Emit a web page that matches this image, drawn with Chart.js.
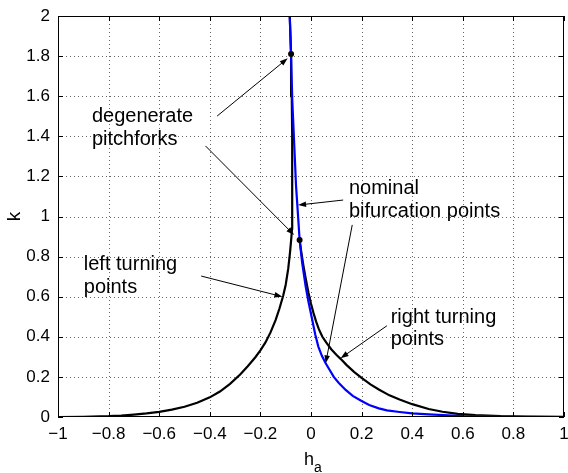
<!DOCTYPE html>
<html>
  <head>
    <style>
      body {
        margin: 0;
        background: #fff;
      }
      .wrap {
        width: 568px;
        height: 473px;
        position: relative;
      }
    </style>
    <script src="https://cdn.jsdelivr.net/npm/chart.js"></script>
  </head>
  <body>
    <div class="wrap">
      <canvas id="kChart"></canvas>
    </div>
    <script>
      // tick values and labels
      var xTicks = [-1, -0.8, -0.6, -0.4, -0.2, 0, 0.2, 0.4, 0.6, 0.8, 1];
      var xTickLabels = ['\u22121', '\u22120.8', '\u22120.6', '\u22120.4', '\u22120.2', '0', '0.2', '0.4', '0.6', '0.8', '1'];
      var yTicks = [0, 0.2, 0.4, 0.6, 0.8, 1, 1.2, 1.4, 1.6, 1.8, 2];
      var yTickLabels = ['0', '0.2', '0.4', '0.6', '0.8', '1', '1.2', '1.4', '1.6', '1.8', '2'];

      // left turning points (black)
      var leftX = [-1, -0.9, -0.8, -0.75, -0.7, -0.65, -0.6, -0.55, -0.5, -0.45, -0.4, -0.36, -0.32, -0.28, -0.25, -0.22, -0.2, -0.18, -0.16, -0.14, -0.125, -0.11, -0.1, -0.09, -0.083, -0.078, -0.075, -0.074, -0.074, -0.075, -0.076, -0.0787, -0.084];
      var leftY = [0, 0.001, 0.004, 0.007, 0.012, 0.018, 0.026, 0.037, 0.051, 0.071, 0.098, 0.127, 0.165, 0.212, 0.253, 0.298, 0.332, 0.372, 0.422, 0.483, 0.54, 0.605, 0.66, 0.74, 0.82, 0.89, 0.94, 0.98, 1.2, 1.4, 1.6, 1.81, 2.0];

      // right turning points (black)
      var rightX = [-0.045, -0.038, -0.03, -0.02, -0.01, 0, 0.01, 0.02, 0.031, 0.045, 0.06, 0.08, 0.1, 0.117, 0.14, 0.17, 0.2, 0.235, 0.268, 0.31, 0.35, 0.4, 0.465, 0.52, 0.58, 0.65, 0.75, 0.85, 1];
      var rightY = [0.883, 0.82, 0.755, 0.685, 0.62, 0.565, 0.518, 0.477, 0.438, 0.4, 0.372, 0.338, 0.31, 0.29, 0.26, 0.225, 0.195, 0.163, 0.137, 0.108, 0.087, 0.064, 0.04, 0.026, 0.016, 0.009, 0.004, 0.002, 0.0005];

      // nominal bifurcation points (blue)
      var nomX = [-0.084, -0.079, -0.074, -0.066, -0.059, -0.054, -0.05, -0.045, -0.035, -0.021, -0.01, 0.005, 0.017, 0.029, 0.043, 0.058, 0.075, 0.09, 0.11, 0.137, 0.165, 0.2, 0.23, 0.268, 0.3, 0.35, 0.4, 0.465, 0.6, 0.8, 1];
      var nomY = [2.0, 1.81, 1.58, 1.35, 1.15, 1.057, 0.98, 0.883, 0.77, 0.65, 0.575, 0.484, 0.41, 0.351, 0.305, 0.268, 0.232, 0.2, 0.17, 0.135, 0.105, 0.08, 0.06, 0.043, 0.033, 0.025, 0.018, 0.013, 0.005, 0.001, 0];

      // degenerate pitchforks
      var dotX = [-0.0787, -0.045];
      var dotY = [1.81, 0.883];

      // annotations (data units)
      var noteLines = [['degenerate', 'pitchforks'], ['nominal', 'bifurcation points'], ['right turning', 'points'], ['left turning', 'points']];
      var noteX = [-0.866, 0.15, 0.315, -0.898];
      var noteY = [1.471, 1.112, 0.469, 0.733];
      var arrowFromX = [-0.371, -0.417, 0.127, 0.163, 0.3, -0.434];
      var arrowFromY = [1.501, 1.352, 1.082, 0.958, 0.455, 0.703];
      var arrowToX = [-0.092, -0.067, -0.051, 0.058, 0.117, -0.113];
      var arrowToY = [1.789, 0.908, 1.057, 0.268, 0.293, 0.6];

      var FONT = "'Liberation Sans', Arial, Helvetica, sans-serif";

      function pts(xs, ys) {
        return xs.map(function(x, i) { return {x: x, y: ys[i]}; });
      }

      function arrow(ctx, x1, y1, x2, y2) {
        var a = Math.atan2(y2 - y1, x2 - x1);
        var len = 8, half = 2.8;
        ctx.beginPath();
        ctx.moveTo(x1, y1);
        ctx.lineTo(x2 - Math.cos(a) * len * 0.6, y2 - Math.sin(a) * len * 0.6);
        ctx.stroke();
        ctx.beginPath();
        ctx.moveTo(x2, y2);
        ctx.lineTo(x2 - Math.cos(a) * len + Math.sin(a) * half, y2 - Math.sin(a) * len - Math.cos(a) * half);
        ctx.lineTo(x2 - Math.cos(a) * len - Math.sin(a) * half, y2 - Math.sin(a) * len + Math.cos(a) * half);
        ctx.closePath();
        ctx.fill();
      }

      var matlabAxes = {
        id: 'matlabAxes',
        beforeDatasetsDraw: function(chart) {
          var ctx = chart.ctx, a = chart.chartArea;
          var xs = chart.scales.x, ys = chart.scales.y;
          ctx.save();
          ctx.strokeStyle = 'rgba(0,0,0,0.6)';
          ctx.lineWidth = 1;
          ctx.setLineDash([1, 3]);
          xTicks.forEach(function(v) {
            var px = Math.round(xs.getPixelForValue(v)) + 0.5;
            if (px <= a.left + 1 || px >= a.right - 1) return;
            ctx.beginPath();
            ctx.moveTo(px, a.top);
            ctx.lineTo(px, a.bottom);
            ctx.stroke();
          });
          yTicks.forEach(function(v) {
            var py = Math.round(ys.getPixelForValue(v)) + 0.5;
            if (py <= a.top + 1 || py >= a.bottom - 1) return;
            ctx.beginPath();
            ctx.moveTo(a.left, py);
            ctx.lineTo(a.right, py);
            ctx.stroke();
          });
          ctx.restore();
        },
        afterDatasetsDraw: function(chart) {
          var ctx = chart.ctx, a = chart.chartArea;
          var xs = chart.scales.x, ys = chart.scales.y;
          ctx.save();
          // box and inner ticks
          ctx.strokeStyle = '#000';
          ctx.lineWidth = 1;
          ctx.strokeRect(a.left + 0.5, a.top + 0.5, a.right - a.left - 1, a.bottom - a.top - 1);
          ctx.beginPath();
          xTicks.forEach(function(v) {
            var px = Math.round(xs.getPixelForValue(v)) + 0.5;
            ctx.moveTo(px, a.bottom); ctx.lineTo(px, a.bottom - 5);
            ctx.moveTo(px, a.top); ctx.lineTo(px, a.top + 5);
          });
          yTicks.forEach(function(v) {
            var py = Math.round(ys.getPixelForValue(v)) + 0.5;
            ctx.moveTo(a.left, py); ctx.lineTo(a.left + 5, py);
            ctx.moveTo(a.right, py); ctx.lineTo(a.right - 5, py);
          });
          ctx.stroke();

          // arrows
          ctx.fillStyle = '#000';
          ctx.lineWidth = 1;
          arrowFromX.forEach(function(v, i) {
            arrow(ctx, xs.getPixelForValue(v), ys.getPixelForValue(arrowFromY[i]),
              xs.getPixelForValue(arrowToX[i]), ys.getPixelForValue(arrowToY[i]));
          });

          // notes
          ctx.font = '20px ' + FONT;
          ctx.textAlign = 'left';
          ctx.textBaseline = 'alphabetic';
          noteLines.forEach(function(lines, i) {
            var px = xs.getPixelForValue(noteX[i]);
            var py = ys.getPixelForValue(noteY[i]);
            lines.forEach(function(t, j) {
              ctx.fillText(t, px, py + j * 22.5);
            });
          });

          // axis labels
          ctx.font = '18px ' + FONT;
          ctx.textAlign = 'center';
          var cx = (a.left + a.right) / 2;
          ctx.fillText('h', cx - 2, 465);
          ctx.font = '14px ' + FONT;
          ctx.fillText('a', cx + 7, 472);
          ctx.save();
          ctx.translate(20, (a.top + a.bottom) / 2);
          ctx.rotate(-Math.PI / 2);
          ctx.font = '19px ' + FONT;
          ctx.fillText('k', 0, 0);
          ctx.restore();
          ctx.restore();
        }
      };

      var ctx = document.getElementById('kChart').getContext('2d');
      var kChart = new Chart(ctx, {
        type: 'scatter',
        data: {
          datasets: [
            {label: 'degenerate pitchforks', data: pts(dotX, dotY), showLine: false, order: 0, pointRadius: 3, pointBackgroundColor: '#000', pointBorderColor: '#000', pointBorderWidth: 0},
            {label: 'nominal bifurcation points', data: pts(nomX, nomY), showLine: true, order: 1, borderColor: '#0000ff', borderWidth: 2.2, pointRadius: 0, tension: 0},
            {label: 'left turning points', data: pts(leftX, leftY), showLine: true, order: 2, borderColor: '#000', borderWidth: 2.2, pointRadius: 0, tension: 0},
            {label: 'right turning points', data: pts(rightX, rightY), showLine: true, order: 2, borderColor: '#000', borderWidth: 2.2, pointRadius: 0, tension: 0}
          ]
        },
        options: {
          responsive: true,
          maintainAspectRatio: false,
          animation: false,
          layout: {padding: {top: 16, right: 2, left: 0, bottom: 0}},
          plugins: {
            legend: {display: false},
            tooltip: {enabled: false}
          },
          scales: {
            x: {
              type: 'linear',
              min: -1,
              max: 1,
              afterBuildTicks: function(s) { s.ticks = xTicks.map(function(v) { return {value: v}; }); },
              afterFit: function(s) { s.height = 56; s.paddingLeft = 0; s.paddingRight = 0; },
              grid: {display: false, drawTicks: false},
              border: {display: false},
              ticks: {
                autoSkip: false,
                maxRotation: 0,
                padding: 7,
                color: '#000',
                font: {family: FONT, size: 17},
                callback: function(v, i) { return xTickLabels[i]; }
              }
            },
            y: {
              type: 'linear',
              min: 0,
              max: 2,
              afterBuildTicks: function(s) { s.ticks = yTicks.map(function(v) { return {value: v}; }); },
              afterFit: function(s) { s.width = 58; s.paddingTop = 0; s.paddingBottom = 0; },
              grid: {display: false, drawTicks: false},
              border: {display: false},
              ticks: {
                autoSkip: false,
                padding: 8,
                color: '#000',
                font: {family: FONT, size: 17},
                callback: function(v, i) { return yTickLabels[i]; }
              }
            }
          }
        },
        plugins: [matlabAxes]
      });
    </script>
  </body>
</html>
